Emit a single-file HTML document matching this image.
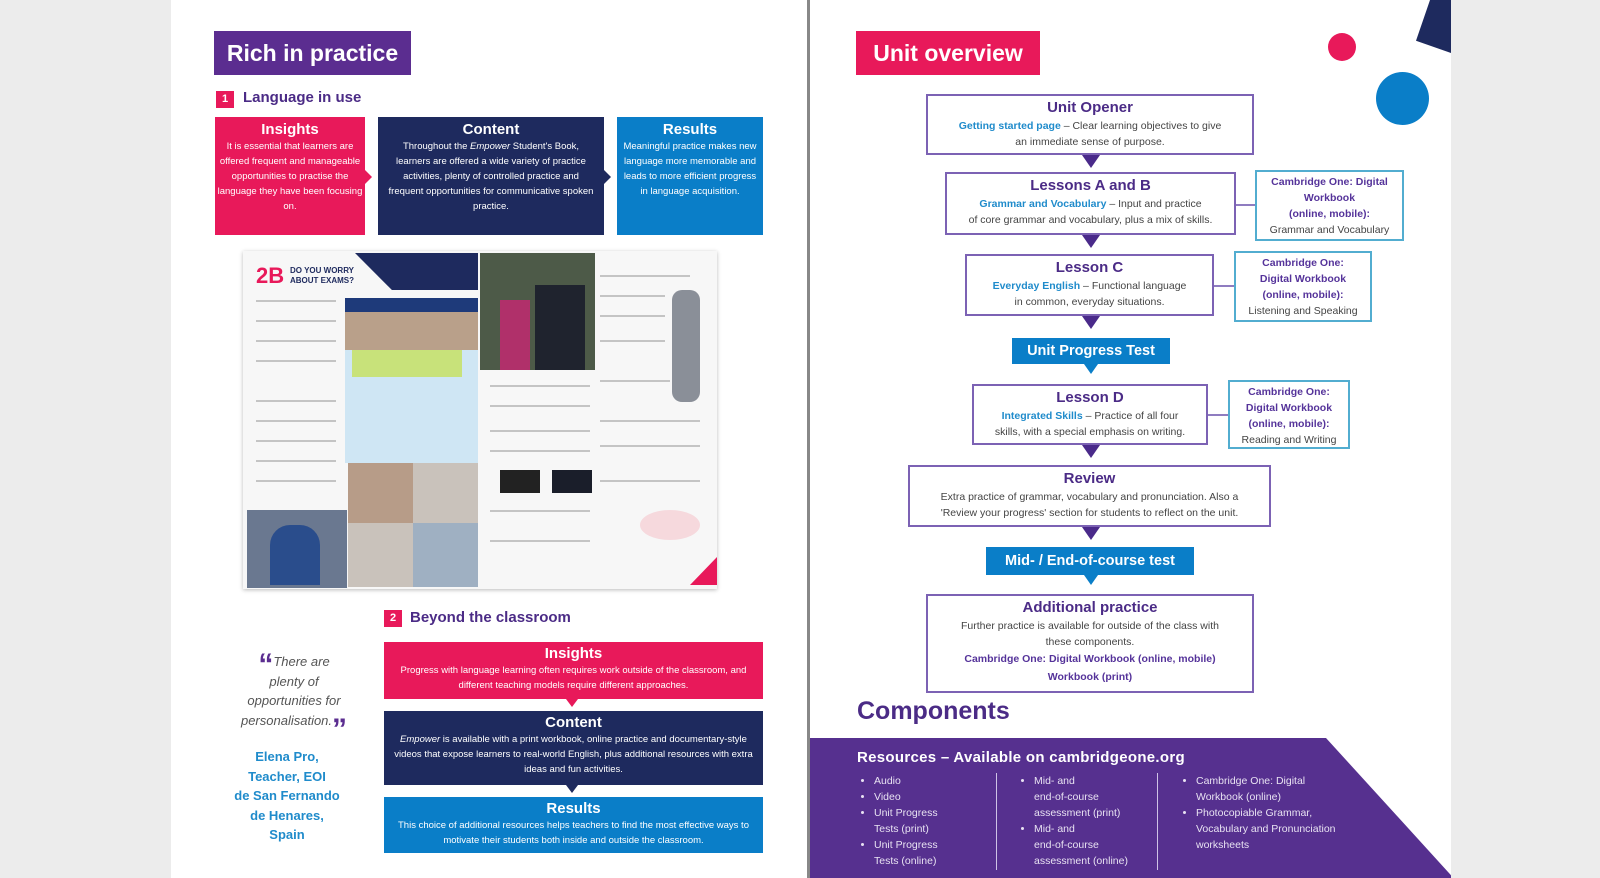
<!DOCTYPE html>
<html><head><meta charset="utf-8"><style>
*{margin:0;padding:0;box-sizing:border-box}
body{width:1600px;height:878px;background:#ececec;position:relative;overflow:hidden;font-family:"Liberation Sans",sans-serif}
.a{position:absolute}
.pg{background:#fff}
.t{color:#fff;text-align:center;font-size:9.5px;line-height:15px}
.t b{display:block;font-size:15px;line-height:18px;margin-top:4px}
.bx{position:absolute;border:2px solid #7c62b4;background:#fff;text-align:center;color:#444;font-size:10.5px;line-height:16px}
.bx h3{color:#4b2b86;font-size:15px;line-height:20px;margin-top:2px}
.bl{color:#1f8bcb;font-weight:bold}
.sd{position:absolute;border:2px solid #52add0;background:#fff;text-align:center;color:#444;font-size:10.5px;line-height:16px}
.sd b{color:#55339a}
.ar{position:absolute;width:0;height:0;border-left:9px solid transparent;border-right:9px solid transparent;border-top:13px solid #4a2a8a}
.ln{position:absolute;height:2px;background:#8f7cc0}
.gl{position:absolute;height:2px;background:#c4c4c4}
.res{color:#e8e2f2;font-size:10.5px;line-height:16px}
.res li{margin-left:14px}
</style></head><body>
<div class="a pg" style="left:171px;top:0;width:636px;height:878px"></div>
<div class="a" style="left:807px;top:0;width:3px;height:878px;background:#888"></div>
<div class="a pg" style="left:810px;top:0;width:641px;height:878px"></div>

<!-- LEFT -->
<div class="a" style="left:214px;top:31px;width:197px;height:44px;background:#5b2d90;color:#fff;font-weight:bold;font-size:23px;line-height:44px;text-align:center">Rich in practice</div>
<div class="a" style="left:216px;top:91px;width:18px;height:17px;background:#e8195a;color:#fff;font-size:11px;font-weight:bold;text-align:center;line-height:17px">1</div>
<div class="a" style="left:243px;top:89px;color:#4b2b86;font-weight:bold;font-size:15px">Language in use</div>
<div class="a t" style="left:215px;top:117px;width:150px;height:118px;background:#e8195a"><b>Insights</b>It is essential that learners are offered frequent and manageable opportunities to practise the language they have been focusing on.</div>
<div class="a t" style="left:378px;top:117px;width:226px;height:118px;background:#1e2a5e;padding:0 8px"><b>Content</b>Throughout the <i>Empower</i> Student's Book, learners are offered a wide variety of practice activities, plenty of controlled practice and frequent opportunities for communicative spoken practice.</div>
<div class="a t" style="left:617px;top:117px;width:146px;height:118px;background:#0a7ec8;padding:0 6px"><b>Results</b>Meaningful practice makes new language more memorable and leads to more efficient progress in language acquisition.</div>
<div class="a" style="left:365px;top:170px;border-top:7px solid transparent;border-bottom:7px solid transparent;border-left:7px solid #e8195a"></div>
<div class="a" style="left:604px;top:170px;border-top:7px solid transparent;border-bottom:7px solid transparent;border-left:7px solid #1e2a5e"></div>

<!-- magazine -->
<div class="a" style="left:243px;top:251px;width:474px;height:338px;background:#f7f7f7;box-shadow:0 1px 4px #bbb"></div>
<div class="a" style="left:256px;top:263px;color:#e8195a;font-weight:bold;font-size:22px">2B</div>
<div class="a" style="left:290px;top:266px;color:#1e2a5e;font-weight:bold;font-size:8px;line-height:10px">DO YOU WORRY<br>ABOUT EXAMS?</div>
<div class="a" style="left:355px;top:253px;width:123px;height:37px;background:#1e2a5e;clip-path:polygon(0 0,100% 0,100% 100%,30% 100%)"></div>
<div class="a" style="left:345px;top:298px;width:133px;height:14px;background:#1e3a7a"></div>
<div class="a" style="left:345px;top:312px;width:133px;height:38px;background:#b9a08a"></div>
<div class="a" style="left:345px;top:350px;width:133px;height:113px;background:#cfe6f4"></div>
<div class="a" style="left:352px;top:350px;width:110px;height:27px;background:#c8e27a"></div>
<div class="a" style="left:348px;top:463px;width:130px;height:124px;background:#c9c2bb"></div>
<div class="a" style="left:348px;top:463px;width:65px;height:60px;background:#b79c88"></div>
<div class="a" style="left:413px;top:523px;width:65px;height:64px;background:#9fb0c2"></div>
<div class="a" style="left:247px;top:510px;width:100px;height:78px;background:#6a7890"></div>
<div class="a" style="left:270px;top:525px;width:50px;height:60px;background:#2a4d8c;border-radius:20px 20px 0 0"></div>
<div class="a" style="left:480px;top:253px;width:115px;height:117px;background:#4d5a48"></div>
<div class="a" style="left:500px;top:300px;width:30px;height:70px;background:#b0306a"></div>
<div class="a" style="left:535px;top:285px;width:50px;height:85px;background:#1f232e"></div>
<div class="a" style="left:672px;top:290px;width:28px;height:112px;background:#8a8f98;border-radius:10px"></div>
<div class="a" style="left:500px;top:470px;width:40px;height:23px;background:#222"></div>
<div class="a" style="left:552px;top:470px;width:40px;height:23px;background:#1a1e2a"></div>
<div class="a" style="left:690px;top:557px;width:27px;height:28px;background:#e8195a;clip-path:polygon(100% 0,100% 100%,0 100%)"></div>
<div class="gl" style="left:256px;top:300px;width:80px"></div>
<div class="gl" style="left:256px;top:320px;width:80px"></div>
<div class="gl" style="left:256px;top:340px;width:80px"></div>
<div class="gl" style="left:256px;top:360px;width:80px"></div>
<div class="gl" style="left:256px;top:400px;width:80px"></div>
<div class="gl" style="left:256px;top:420px;width:80px"></div>
<div class="gl" style="left:256px;top:440px;width:80px"></div>
<div class="gl" style="left:256px;top:460px;width:80px"></div>
<div class="gl" style="left:256px;top:480px;width:80px"></div>
<div class="gl" style="left:600px;top:275px;width:90px"></div>
<div class="gl" style="left:600px;top:295px;width:65px"></div>
<div class="gl" style="left:600px;top:315px;width:65px"></div>
<div class="gl" style="left:600px;top:340px;width:65px"></div>
<div class="gl" style="left:600px;top:380px;width:70px"></div>
<div class="gl" style="left:600px;top:420px;width:100px"></div>
<div class="gl" style="left:600px;top:445px;width:100px"></div>
<div class="gl" style="left:600px;top:480px;width:100px"></div>
<div class="gl" style="left:490px;top:385px;width:100px"></div>
<div class="gl" style="left:490px;top:405px;width:100px"></div>
<div class="gl" style="left:490px;top:430px;width:100px"></div>
<div class="gl" style="left:490px;top:450px;width:100px"></div>
<div class="gl" style="left:490px;top:510px;width:100px"></div>
<div class="gl" style="left:490px;top:540px;width:100px"></div>
<div class="a" style="left:640px;top:510px;width:60px;height:30px;background:#f6d9dd;border-radius:50%"></div>

<div class="a" style="left:384px;top:610px;width:18px;height:17px;background:#e8195a;color:#fff;font-size:11px;font-weight:bold;text-align:center;line-height:17px">2</div>
<div class="a" style="left:410px;top:609px;color:#4b2b86;font-weight:bold;font-size:15px">Beyond the classroom</div>
<div class="a t" style="left:384px;top:642px;width:379px;height:57px;background:#e8195a;padding:0 8px"><b style="margin-top:3px">Insights</b>Progress with language learning often requires work outside of the classroom, and different teaching models require different approaches.</div>
<div class="a t" style="left:384px;top:711px;width:379px;height:74px;background:#1e2a5e;padding:0 8px"><b style="margin-top:3px">Content</b><i>Empower</i> is available with a print workbook, online practice and documentary-style videos that expose learners to real-world English, plus additional resources with extra ideas and fun activities.</div>
<div class="a t" style="left:384px;top:797px;width:379px;height:56px;background:#0a7ec8;padding:0 6px"><b style="margin-top:3px">Results</b>This choice of additional resources helps teachers to find the most effective ways to motivate their students both inside and outside the classroom.</div>
<div class="a" style="left:566px;top:699px;border-left:6px solid transparent;border-right:6px solid transparent;border-top:8px solid #e8195a"></div>
<div class="a" style="left:566px;top:785px;border-left:6px solid transparent;border-right:6px solid transparent;border-top:8px solid #1e2a5e"></div>

<div class="a" style="left:234px;top:652px;width:120px;text-align:center;color:#555;font-style:italic;font-size:13px;line-height:19.5px"><span style="color:#5b2d90;font-size:30px;font-weight:bold;font-style:normal;line-height:10px;vertical-align:-8px">&#8220;</span>There are<br>plenty of<br>opportunities for<br>personalisation.<span style="color:#5b2d90;font-size:30px;font-weight:bold;font-style:normal;line-height:10px;vertical-align:-14px">&#8221;</span></div>
<div class="a" style="left:222px;top:747px;width:130px;text-align:center;color:#1f8bcb;font-weight:bold;font-size:13px;line-height:19.5px">Elena Pro,<br>Teacher, EOI<br>de San Fernando<br>de Henares,<br>Spain</div>

<!-- RIGHT -->
<div class="a" style="left:856px;top:31px;width:184px;height:44px;background:#e8195a;color:#fff;font-weight:bold;font-size:23px;line-height:44px;text-align:center">Unit overview</div>
<div class="a" style="left:1328px;top:33px;width:28px;height:28px;border-radius:50%;background:#e8195a"></div>
<div class="a" style="left:1376px;top:72px;width:53px;height:53px;border-radius:50%;background:#0a7ec8"></div>
<div class="a" style="left:1416px;top:0;width:35px;height:53px;background:#1e2a5e;clip-path:polygon(40% 0,100% 0,100% 100%,0 77%)"></div>

<div class="ln" style="left:1236px;top:204px;width:19px"></div>
<div class="ln" style="left:1214px;top:285px;width:20px"></div>
<div class="ln" style="left:1208px;top:414px;width:20px"></div>

<div class="bx" style="left:926px;top:94px;width:328px;height:61px"><h3>Unit Opener</h3><span class="bl">Getting started page</span> – Clear learning objectives to give<br>an immediate sense of purpose.</div>
<div class="ar" style="left:1082px;top:155px"></div>
<div class="bx" style="left:945px;top:172px;width:291px;height:63px"><h3>Lessons A and B</h3><span class="bl">Grammar and Vocabulary</span> – Input and practice<br>of core grammar and vocabulary, plus a mix of skills.</div>
<div class="sd" style="left:1255px;top:170px;width:149px;height:71px;padding-top:2px"><b>Cambridge One: Digital<br>Workbook<br>(online, mobile):</b><br>Grammar and Vocabulary</div>
<div class="ar" style="left:1082px;top:235px"></div>
<div class="bx" style="left:965px;top:254px;width:249px;height:62px"><h3>Lesson C</h3><span class="bl">Everyday English</span> – Functional language<br>in common, everyday situations.</div>
<div class="sd" style="left:1234px;top:251px;width:138px;height:71px;padding-top:2px"><b>Cambridge One:<br>Digital Workbook<br>(online, mobile):</b><br>Listening and Speaking</div>
<div class="ar" style="left:1082px;top:316px"></div>
<div class="a" style="left:1012px;top:338px;width:158px;height:26px;background:#0a7ec8;color:#fff;font-weight:bold;font-size:14.5px;line-height:26px;text-align:center">Unit Progress Test</div>
<div class="a" style="left:1084px;top:364px;border-left:7px solid transparent;border-right:7px solid transparent;border-top:10px solid #0a7ec8"></div>
<div class="bx" style="left:972px;top:384px;width:236px;height:61px"><h3>Lesson D</h3><span class="bl">Integrated Skills</span> – Practice of all four<br>skills, with a special emphasis on writing.</div>
<div class="sd" style="left:1228px;top:380px;width:122px;height:69px;padding-top:2px"><b>Cambridge One:<br>Digital Workbook<br>(online, mobile):</b><br>Reading and Writing</div>
<div class="ar" style="left:1082px;top:445px"></div>
<div class="bx" style="left:908px;top:465px;width:363px;height:62px"><h3>Review</h3>Extra practice of grammar, vocabulary and pronunciation. Also a<br>'Review your progress' section for students to reflect on the unit.</div>
<div class="ar" style="left:1082px;top:527px"></div>
<div class="a" style="left:986px;top:547px;width:208px;height:28px;background:#0a7ec8;color:#fff;font-weight:bold;font-size:14.5px;line-height:28px;text-align:center">Mid- / End-of-course test</div>
<div class="a" style="left:1084px;top:575px;border-left:7px solid transparent;border-right:7px solid transparent;border-top:10px solid #0a7ec8"></div>
<div class="bx" style="left:926px;top:594px;width:328px;height:99px"><h3>Additional practice</h3>Further practice is available for outside of the class with<br>these components.<br><b style="color:#55339a;line-height:19px">Cambridge One: Digital Workbook (online, mobile)</b><br><b style="color:#55339a">Workbook (print)</b></div>

<div class="a" style="left:857px;top:697px;color:#4b2b86;font-weight:bold;font-size:25px">Components</div>
<div class="a" style="left:810px;top:738px;width:641px;height:140px;background:#56308f;clip-path:polygon(0 0,80.5% 0,100% 98%,100% 100%,0 100%)"></div>
<div class="a" style="left:857px;top:749px;color:#fff;font-weight:bold;font-size:15px;letter-spacing:0.3px">Resources – Available on cambridgeone.org</div>
<ul class="a res" style="left:860px;top:773px;width:130px"><li>Audio</li><li>Video</li><li>Unit Progress<br>Tests (print)</li><li>Unit Progress<br>Tests (online)</li></ul>
<div class="a" style="left:996px;top:773px;width:1px;height:97px;background:#cfc3e6"></div>
<ul class="a res" style="left:1020px;top:773px;width:130px"><li>Mid- and<br>end-of-course<br>assessment (print)</li><li>Mid- and<br>end-of-course<br>assessment (online)</li></ul>
<div class="a" style="left:1157px;top:773px;width:1px;height:97px;background:#cfc3e6"></div>
<ul class="a res" style="left:1182px;top:773px;width:200px"><li>Cambridge One: Digital<br>Workbook (online)</li><li>Photocopiable Grammar,<br>Vocabulary and Pronunciation<br>worksheets</li></ul>
</body></html>
